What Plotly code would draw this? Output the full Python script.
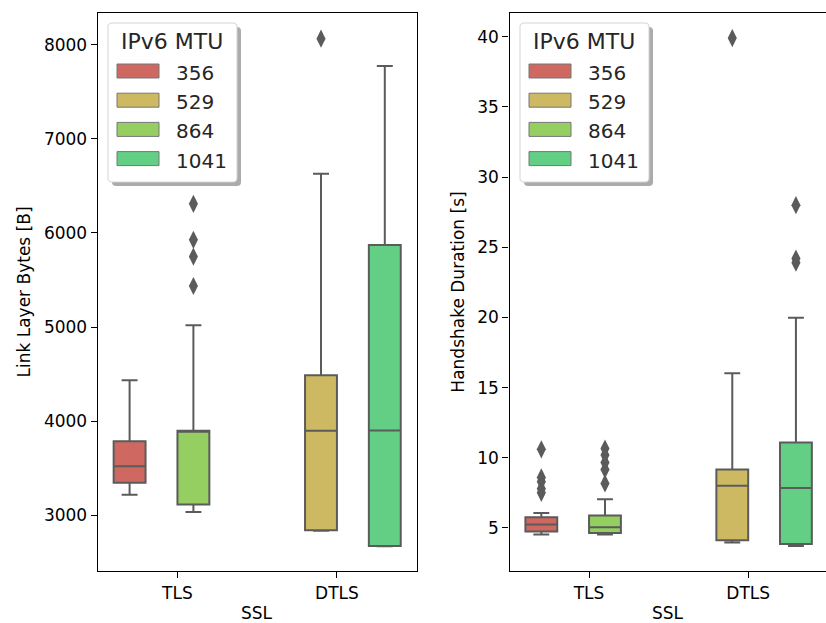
import plotly.graph_objects as go
from plotly.subplots import make_subplots

# ---------------- data ----------------
ssl_categories = ["TLS", "DTLS"]
mtu_levels = ["356", "529", "864", "1041"]
mtu_colors = ["#cf6861", "#cdb962", "#95cf61", "#63cf84"]
box_ssl = ["TLS", "DTLS", "TLS", "DTLS"]  # category each MTU level appears in

bytes_lower = [3216, 2836, 3035, 2670]
bytes_q1 = [3344, 2840, 3114, 2673]
bytes_median = [3521, 3897, 3897, 3901]
bytes_q3 = [3787, 4486, 3897, 5872]
bytes_upper = [4433, 6628, 5018, 7773]
bytes_outliers = [[], [8064], [6309, 5926, 5748, 5436], []]

dur_lower = [4.53, 3.96, 4.53, 3.72]
dur_q1 = [4.74, 4.12, 4.64, 3.86]
dur_median = [5.24, 8.0, 5.05, 7.85]
dur_q3 = [5.76, 9.16, 5.88, 11.09]
dur_upper = [6.07, 16.03, 7.05, 19.98]
dur_outliers = [[10.6, 8.6, 8.3, 7.8, 7.5], [39.9],
                [10.66, 10.19, 9.66, 9.16, 8.17], [28.0, 24.2, 23.9]]

bytes_ticks = [3000, 4000, 5000, 6000, 7000, 8000]
dur_ticks = [5, 10, 15, 20, 25, 30, 35, 40]

legend_title = "IPv6 MTU"

# ---------------- figure ----------------
EDGE = "#5b5b5b"
FONT = "DejaVu Sans"
W, H = 826, 623
MT, MB = 13, 52
n_hue = len(mtu_levels)
slot = 0.8 / n_hue


def py(p):
    """pixel row -> paper y"""
    return (H - MB - p) / (H - MT - MB)


def px(p):
    return p / W


fig = make_subplots(rows=1, cols=2)

panels = [
    (1, bytes_lower, bytes_q1, bytes_median, bytes_q3, bytes_upper, bytes_outliers),
    (2, dur_lower, dur_q1, dur_median, dur_q3, dur_upper, dur_outliers),
]

for col, lo, q1, med, q3, hi, outs in panels:
    for i, mtu in enumerate(mtu_levels):
        pos = ssl_categories.index(box_ssl[i]) - 0.4 + slot / 2 + slot * i
        fig.add_trace(go.Box(
            x=[pos], q1=[q1[i]], median=[med[i]], q3=[q3[i]],
            lowerfence=[lo[i]], upperfence=[hi[i]],
            width=slot, whiskerwidth=0.5, boxpoints=False,
            fillcolor=mtu_colors[i], line=dict(color=EDGE, width=2),
            name=mtu, showlegend=False, hoverinfo="skip",
        ), row=1, col=col)
        if outs[i]:
            fig.add_trace(go.Scatter(
                x=[pos] * len(outs[i]), y=outs[i], mode="markers",
                marker=dict(symbol="diamond-tall", size=13, color=EDGE,
                            line=dict(width=0)),
                name=mtu, showlegend=False, hoverinfo="skip",
            ), row=1, col=col)

axis_common = dict(showline=True, linecolor="black", linewidth=1.3,
                   ticks="outside", ticklen=6, tickwidth=1.3, tickcolor="black",
                   showgrid=False, zeroline=False,
                   tickfont=dict(family=FONT, size=17, color="black"),
                   automargin=False)

fig.update_layout(
    width=W, height=H,
    margin=dict(l=0, r=0, t=MT, b=MB),
    plot_bgcolor="white", paper_bgcolor="white",
    font=dict(family=FONT, color="black"),
    showlegend=False,
    xaxis=dict(domain=[97.7 / W, 416.7 / W], range=[-0.5, 1.5],
               tickvals=[0, 1], ticktext=ssl_categories, mirror=True,
               **axis_common),
    yaxis=dict(range=[2407, 8337], tickvals=bytes_ticks, mirror=True,
               title=dict(text="Link Layer Bytes [B]", font=dict(size=17), standoff=8),
               **axis_common),
    xaxis2=dict(domain=[509.5 / W, 1.0], range=[-0.5, 1.489],
                tickvals=[0, 1], ticktext=ssl_categories, mirror=True,
                **axis_common),
    yaxis2=dict(range=[1.933, 41.69], tickvals=dur_ticks, mirror=False,
                title=dict(text="Handshake Duration [s]", font=dict(size=17), standoff=8),
                **axis_common),
)

# x-axis titles
for xc in (257, 668):
    fig.add_annotation(text="SSL", xref="paper", yref="paper",
                       x=px(xc), y=py(612.5), xanchor="center", yanchor="middle",
                       showarrow=False, font=dict(family=FONT, size=17, color="black"))


def rounded_rect(x0, y0, x1, y1, r):
    """rounded rectangle path in paper coords from pixel box"""
    X = lambda v: f"{px(v):.5f}"
    Y = lambda v: f"{py(v):.5f}"
    return (f"M{X(x0 + r)},{Y(y0)} L{X(x1 - r)},{Y(y0)} Q{X(x1)},{Y(y0)} {X(x1)},{Y(y0 + r)} "
            f"L{X(x1)},{Y(y1 - r)} Q{X(x1)},{Y(y1)} {X(x1 - r)},{Y(y1)} "
            f"L{X(x0 + r)},{Y(y1)} Q{X(x0)},{Y(y1)} {X(x0)},{Y(y1 - r)} "
            f"L{X(x0)},{Y(y0 + r)} Q{X(x0)},{Y(y0)} {X(x0 + r)},{Y(y0)} Z")


# legends (one per panel): frame + shadow, title, colour patches, labels
LEG_W, LEG_TOP, LEG_BOT = 129, 23, 182
ROW0, ROW_STEP = 73.0, 29.2
for lx in (108, 520):
    fig.add_shape(type="path", xref="paper", yref="paper",
                  path=rounded_rect(lx + 4, LEG_TOP + 4, lx + LEG_W + 4, LEG_BOT + 4, 4),
                  fillcolor="#ababab", line=dict(width=0), layer="above")
    fig.add_shape(type="path", xref="paper", yref="paper",
                  path=rounded_rect(lx, LEG_TOP, lx + LEG_W, LEG_BOT, 4),
                  fillcolor="white", line=dict(color="#d4d4d4", width=1), layer="above")
    fig.add_annotation(text=legend_title, xref="paper", yref="paper",
                       x=px(lx + 64), y=py(41), xanchor="center", yanchor="middle",
                       showarrow=False, font=dict(family=FONT, size=22, color="#262626"))
    for i, mtu in enumerate(mtu_levels):
        yc = ROW0 + ROW_STEP * i
        fig.add_shape(type="rect", xref="paper", yref="paper",
                      x0=px(lx + 9), x1=px(lx + 51), y0=py(yc + 5), y1=py(yc - 9),
                      fillcolor=mtu_colors[i], line=dict(color="#777777", width=1),
                      layer="above")
        fig.add_annotation(text=mtu, xref="paper", yref="paper",
                           x=px(lx + 66), y=py(yc), xanchor="left", yanchor="middle",
                           showarrow=False, font=dict(family=FONT, size=20, color="#262626"))

fig.write_html("out.html")
